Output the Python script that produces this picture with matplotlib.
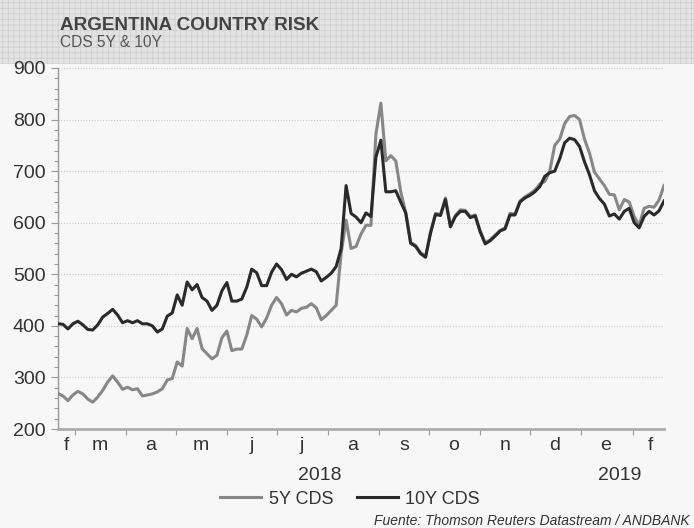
import matplotlib
matplotlib.use('Agg')
import matplotlib.pyplot as plt
import matplotlib.dates as mdates
import matplotlib.transforms as mtransforms
from matplotlib.ticker import MultipleLocator, FixedLocator
from matplotlib.patches import Rectangle
import pandas as pd

plt.rcParams['font.family'] = ['Liberation Sans', 'DejaVu Sans']
plt.rcParams['hatch.linewidth'] = 0.6

# ---------------- data ----------------
dates = pd.date_range('2018-02-19', periods=123, freq='3D')

cds_5y = [269, 264, 255, 266, 273, 268, 258, 252, 262, 275,
          291, 303, 291, 277, 281, 276, 278, 264, 266, 268,
          272, 278, 295, 298, 330, 322, 395, 375, 395, 356,
          346, 336, 343, 377, 390, 352, 355, 355, 382, 420,
          413, 398, 415, 440, 455, 443, 421, 430, 427, 434,
          436, 443, 435, 412, 420, 430, 440, 540, 605, 550,
          554, 578, 595, 595, 772, 832, 720, 730, 720, 660,
          620, 562, 556, 542, 535, 582, 618, 616, 648, 594,
          614, 625, 624, 612, 615, 584, 561, 567, 576, 585,
          590, 618, 617, 642, 650, 656, 663, 675, 680, 700,
          750, 762, 792, 806, 808, 800, 762, 735, 698, 685,
          672, 655, 654, 625, 645, 640, 612, 595, 628, 632,
          630, 644, 672]

cds_10y = [404, 403, 394, 404, 409, 402, 393, 392, 402, 417,
           424, 432, 421, 406, 410, 406, 410, 404, 404, 400,
           388, 394, 419, 425, 460, 440, 485, 470, 480, 455,
           448, 430, 440, 468, 484, 448, 448, 452, 475, 510,
           503, 478, 478, 504, 520, 509, 490, 500, 495, 502,
           506, 510, 505, 487, 494, 502, 515, 550, 672, 618,
           611, 600, 619, 612, 727, 760, 660, 660, 662, 640,
           619, 560, 554, 540, 533, 580, 616, 614, 645, 592,
           612, 622, 622, 610, 613, 582, 559, 565, 574, 584,
           588, 615, 615, 640, 648, 653, 660, 670, 690, 697,
           700, 724, 755, 764, 761, 748, 718, 693, 662, 647,
           636, 613, 617, 607, 622, 628, 600, 590, 612, 622,
           615, 623, 642]

series_names = ['5Y CDS', '10Y CDS']

month_tick_dates = ['2018-03-01', '2018-04-01', '2018-05-01', '2018-06-01',
                    '2018-07-01', '2018-08-01', '2018-09-01', '2018-10-01',
                    '2018-11-01', '2018-12-01', '2019-01-01', '2019-02-01']
month_labels = ['f', 'm', 'a', 'm', 'j', 'j', 'a', 's', 'o', 'n', 'd', 'e', 'f']
month_label_dates = ['2018-02-24', '2018-03-16', '2018-04-16', '2018-05-16',
                     '2018-06-16', '2018-07-16', '2018-08-16', '2018-09-16',
                     '2018-10-16', '2018-11-16', '2018-12-16', '2019-01-16',
                     '2019-02-12']
year_labels = ['2018', '2019']
year_label_dates = ['2018-07-27', '2019-01-24']

title = 'ARGENTINA COUNTRY RISK'
subtitle = 'CDS 5Y & 10Y'
source = 'Fuente: Thomson Reuters Datastream / ANDBANK'

# ---------------- figure ----------------
W, H = 694, 528
bg = '#f7f7f7'
fig = plt.figure(figsize=(W / 100, H / 100), dpi=100, facecolor=bg)

band = Rectangle((0, 1 - 64 / H), 1, 64 / H, transform=fig.transFigure,
                 facecolor='#e3e3e3', edgecolor='#d0d0d0', hatch='+++',
                 linewidth=0, zorder=-5)
fig.patches.append(band)

fig.text(60 / W, 1 - 30 / H, title, fontsize=13.6, fontweight='bold',
         color='#444444', va='baseline', ha='left')
fig.text(60 / W, 1 - 46.5 / H, subtitle, fontsize=11.2, color='#555555',
         va='baseline', ha='left')

ax = fig.add_axes([58 / W, 1 - 429 / H, (664 - 58) / W, (429 - 68) / H])
ax.set_facecolor(bg)
ax.set_zorder(2)

l5, = ax.plot(dates, cds_5y, color='#878787', lw=2.2, solid_joinstyle='round', zorder=3)
l10, = ax.plot(dates, cds_10y, color='#2a2a2a', lw=2.2, solid_joinstyle='round', zorder=4)

ax.set_xlim(pd.Timestamp('2018-02-19'), pd.Timestamp('2019-02-20'))
ax.set_ylim(200, 900)
ax.yaxis.set_major_locator(MultipleLocator(100))
ax.yaxis.set_minor_locator(MultipleLocator(20))
ax.yaxis.grid(True, which='major', color='#c9c9c9', ls=(0, (1, 1.5)), lw=0.8)
ax.set_axisbelow(True)

for s in ['top', 'right']:
    ax.spines[s].set_visible(False)
ax.spines['left'].set_color('#9a9a9a')
ax.spines['left'].set_linewidth(1.0)
ax.spines['bottom'].set_color('#acacac')
ax.spines['bottom'].set_linewidth(2.0)

ax.tick_params(axis='y', which='major', length=5, width=0.8, color='#9a9a9a',
               labelsize=14, labelcolor='#333333', pad=4)
ax.tick_params(axis='y', which='minor', length=3, width=0.8, color='#9a9a9a')

ax.xaxis.set_major_locator(FixedLocator(mdates.date2num(pd.to_datetime(month_tick_dates))))
ax.xaxis.set_major_formatter(plt.NullFormatter())
ax.xaxis.set_minor_locator(FixedLocator(mdates.date2num(pd.to_datetime(month_label_dates))))
ax.xaxis.set_minor_formatter(plt.FixedFormatter(month_labels))
ax.tick_params(axis='x', which='major', length=4, width=0.8, color='#9a9a9a')
ax.tick_params(axis='x', which='minor', length=0, labelsize=14,
               labelcolor='#333333', pad=6)

trans = mtransforms.blended_transform_factory(ax.transData, ax.transAxes)
for lab, d in zip(year_labels, year_label_dates):
    ax.text(mdates.date2num(pd.Timestamp(d)), (429 - 475) / (429 - 68), lab,
            transform=trans, ha='center', va='center', fontsize=14,
            color='#333333')

fig.legend([l5, l10], series_names, loc='center',
           bbox_to_anchor=(350 / W, 1 - 499 / H), ncol=2, frameon=False,
           fontsize=13, handlelength=2.3, columnspacing=1.3,
           handletextpad=0.4, labelcolor='#333333')

fig.text(690 / W, 1 - 521 / H, source, fontsize=10, style='italic',
         color='#333333', ha='right', va='center')

fig.savefig('out.png', dpi=100, facecolor=bg)
